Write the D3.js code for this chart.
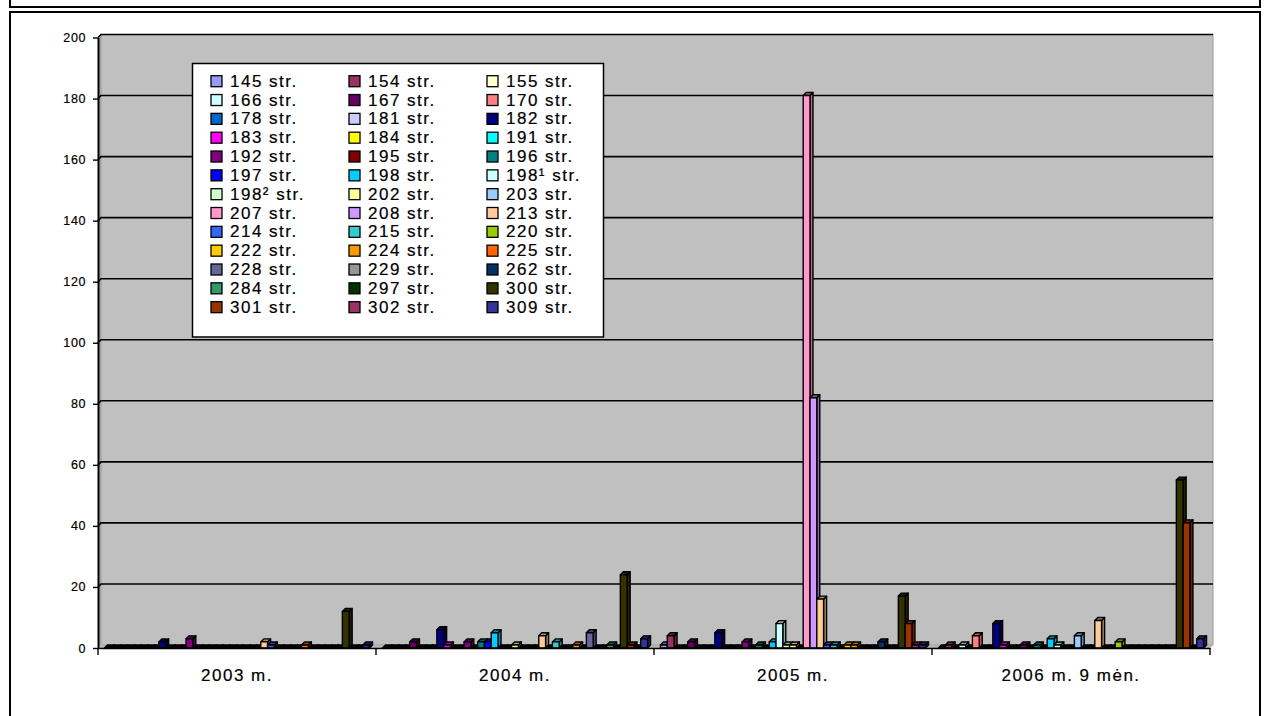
<!DOCTYPE html>
<html>
<head>
<meta charset="utf-8">
<script src="https://cdn.jsdelivr.net/npm/d3@7"></script>
<style>
  body { margin: 0; background: #fff; }
  svg { display: block; font-family: "Liberation Sans", Arial, sans-serif; }
  .lbl { stroke: #000; stroke-width: 0.2px; }
</style>
</head>
<body>
<script>
const categories = ['2003 m.', '2004 m.', '2005 m.', '2006 m. 9 mėn.'];

const seriesNames = [
  '145 str.', '154 str.', '155 str.', '166 str.', '167 str.', '170 str.',
  '178 str.', '181 str.', '182 str.', '183 str.', '184 str.', '191 str.',
  '192 str.', '195 str.', '196 str.', '197 str.', '198 str.', '198¹ str.',
  '198² str.', '202 str.', '203 str.', '207 str.', '208 str.', '213 str.',
  '214 str.', '215 str.', '220 str.', '222 str.', '224 str.', '225 str.',
  '228 str.', '229 str.', '262 str.', '284 str.', '297 str.', '300 str.',
  '301 str.', '302 str.', '309 str.'
];

const seriesColors = [
  '#9999FF', '#993366', '#FFFFCC', '#CCFFFF', '#660066', '#FF8080',
  '#0066CC', '#CCCCFF', '#000080', '#FF00FF', '#FFFF00', '#00FFFF',
  '#800080', '#800000', '#008080', '#0000FF', '#00CCFF', '#CCFFFF',
  '#CCFFCC', '#FFFF99', '#99CCFF', '#FF99CC', '#CC99FF', '#FFCC99',
  '#3366FF', '#33CCCC', '#99CC00', '#FFCC00', '#FF9900', '#FF6600',
  '#666699', '#969696', '#003366', '#339966', '#003300', '#333300',
  '#993300', '#993366', '#333399'
];

// one value per series, in legend order
const values2003 = [0,0,0,0,0,0,0,0,2,0, 0,0,3,0,0,0,0,0,0,0, 0,0,0,2,1,0,0,0,0,1, 0,0,0,0,0,12,0,0,1];
const values2004 = [0,0,0,0,2,0,0,0,6,1, 0,0,2,0,2,2,5,0,0,1, 0,0,0,4,0,2,0,0,1,0, 5,0,0,1,0,24,1,0,3];
const values2005 = [1,4,0,0,2,0,0,0,5,0, 0,0,2,0,1,0,2,8,1,1, 0,181,82,16,1,1,0,1,1,0, 0,0,2,0,0,17,8,1,1];
const values2006 = [0,1,0,1,0,4,0,0,8,1, 0,0,1,0,1,0,3,1,0,0, 4,0,0,9,0,0,2,0,0,0, 0,0,0,0,0,55,41,0,3];
const valuesByCategory = [values2003, values2004, values2005, values2006];

const yTicks = d3.range(0, 201, 20);

const width = 1265, height = 716;
const dx = 3, dy = 3; // 3d depth

const svg = d3.select('body')
  .append('svg')
  .attr('width', width)
  .attr('height', height);

// frames
svg.append('rect')
  .attr('x', 10).attr('y', -10).attr('width', 1250).attr('height', 17)
  .attr('fill', 'none').attr('stroke', '#000').attr('stroke-width', 2);
svg.append('rect')
  .attr('x', 10).attr('y', 12).attr('width', 1250).attr('height', 720)
  .attr('fill', 'none').attr('stroke', '#000').attr('stroke-width', 2);

const x0 = d3.scaleBand().domain(categories).range([98, 1210]).padding(0);
const x1 = d3.scaleBand().domain(d3.range(seriesNames.length))
  .range([0, x0.bandwidth()]).paddingInner(0).paddingOuter(0.95);
const y = d3.scaleLinear().domain([0, 200]).range([648, 37.5]);

const left = x0.range()[0], right = x0.range()[1];

// back wall
svg.append('rect')
  .attr('x', left + dx).attr('y', y(200) - dy)
  .attr('width', right - left).attr('height', y(0) - y(200))
  .attr('fill', '#C0C0C0').attr('stroke', '#9a9a9a').attr('stroke-width', 1);

// left wall
svg.append('polygon')
  .attr('points', [[left, y(200)], [left + dx, y(200) - dy], [left + dx, y(0) - dy], [left, y(0)]].join(' '))
  .attr('fill', '#a8a8a8');

// floor
svg.append('polygon')
  .attr('points', [[left, y(0)], [left + dx, y(0) - dy], [right + dx, y(0) - dy], [right, y(0)]].join(' '))
  .attr('fill', '#b4b4b4');

// gridlines
const grid = svg.append('g');
grid.selectAll('.gl')
  .data(yTicks.filter(v => v > 0))
  .enter()
  .append('path')
  .attr('class', 'gl')
  .attr('d', v => `M${left},${y(v)}L${left + dx},${y(v) - dy}H${right + dx}`)
  .attr('fill', 'none')
  .attr('stroke', '#000')
  .attr('stroke-width', 1.6);

// bars
const bars = svg.append('g');
categories.forEach((cat, ci) => {
  const vals = valuesByCategory[ci];
  vals.forEach((v, si) => {
    const bx = x0(cat) + x1(si);
    const bw = x1.bandwidth();
    const top = y(v), base = y(0);
    const col = seriesColors[si];
    const dark = d3.color(col).darker(1.1).formatHex();
    const g = bars.append('g')
      .attr('stroke', '#000')
      .attr('stroke-width', 1.4)
      .attr('stroke-linejoin', 'round');
    // side
    g.append('polygon')
      .attr('points', [[bx + bw, top], [bx + bw + dx, top - dy], [bx + bw + dx, base - dy], [bx + bw, base]].join(' '))
      .attr('fill', dark);
    // top
    g.append('polygon')
      .attr('points', [[bx, top], [bx + dx, top - dy], [bx + bw + dx, top - dy], [bx + bw, top]].join(' '))
      .attr('fill', v === 0 ? '#000' : dark);
    // front
    g.append('rect')
      .attr('x', bx).attr('y', top)
      .attr('width', bw).attr('height', base - top)
      .attr('fill', col);
  });
});

// y axis
const yAxis = d3.axisLeft(y).tickValues(yTicks).tickSize(5).tickSizeOuter(0).tickPadding(7);
const ya = svg.append('g')
  .attr('transform', `translate(${left},0)`)
  .call(yAxis);
ya.select('.domain').attr('stroke', '#000').attr('stroke-width', 2);
ya.selectAll('.tick line').attr('stroke', '#000').attr('stroke-width', 1.4);
ya.selectAll('.tick text')
  .attr('class', 'lbl')
  .attr('fill', '#000')
  .style('font-size', '12.5px')
  .style('letter-spacing', '0.6px')
  .style('font-family', '"Liberation Sans", Arial, sans-serif');

// x axis
const xAxis = d3.axisBottom(x0).tickSize(0).tickPadding(21);
const xa = svg.append('g')
  .attr('transform', `translate(0,${y(0)})`)
  .call(xAxis);
xa.select('.domain').attr('stroke', '#000').attr('stroke-width', 1.5);
xa.selectAll('.tick text')
  .attr('class', 'lbl')
  .attr('fill', '#000')
  .style('font-size', '17px')
  .style('letter-spacing', '1.5px')
  .style('font-family', '"Liberation Sans", Arial, sans-serif');
xa.selectAll('.bound')
  .data(categories.map(c => x0(c)).concat([right]))
  .enter()
  .append('line')
  .attr('class', 'bound')
  .attr('x1', d => d).attr('x2', d => d)
  .attr('y1', 0).attr('y2', 7)
  .attr('stroke', '#000').attr('stroke-width', 1.4);

// legend
const legend = svg.append('g');
legend.append('rect')
  .attr('x', 192.5).attr('y', 63.5).attr('width', 411).attr('height', 273.5)
  .attr('fill', '#fff').attr('stroke', '#000').attr('stroke-width', 1.5);

const colX = [211, 349, 487];
const rowY0 = 80.7, rowStep = 18.83;
const item = legend.selectAll('.item')
  .data(seriesNames)
  .enter()
  .append('g')
  .attr('class', 'item')
  .attr('transform', (d, i) => `translate(${colX[i % 3]},${rowY0 + Math.floor(i / 3) * rowStep})`);
item.append('rect')
  .attr('x', 0).attr('y', -5)
  .attr('width', 11).attr('height', 11)
  .attr('fill', (d, i) => seriesColors[i])
  .attr('stroke', '#000').attr('stroke-width', 1.3);
item.append('text')
  .attr('class', 'lbl')
  .attr('x', 19).attr('y', 6)
  .style('font-size', '17px')
  .style('letter-spacing', '1.5px')
  .attr('fill', '#000')
  .text(d => d);
</script>
</body>
</html>
